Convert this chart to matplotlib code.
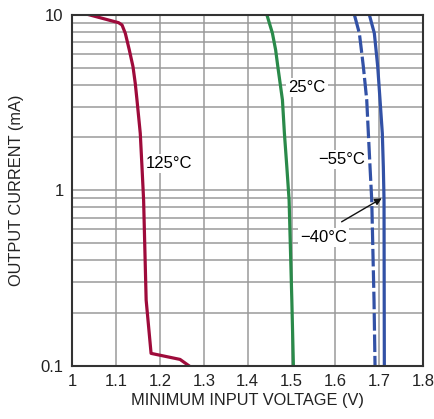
import matplotlib
matplotlib.use("Agg")
import matplotlib.pyplot as plt
from matplotlib.ticker import FixedLocator, NullFormatter

plt.rcParams['font.family'] = ['Liberation Sans Narrow', 'Liberation Sans', 'DejaVu Sans']

# minimum input voltage (V) vs output current (mA)
v_125 = [1.038, 1.106, 1.1138, 1.1213, 1.1304, 1.1388, 1.144, 1.1479, 1.1554,
         1.1593, 1.163, 1.1688, 1.180, 1.246, 1.267]
i_125 = [10.0, 9.0, 8.74, 7.84, 6.30, 5.06, 4.06, 3.27, 2.11,
         1.36, 0.88, 0.237, 0.118, 0.109, 0.1]

v_25 = [1.4437, 1.4564, 1.4637, 1.4687, 1.4740, 1.4792, 1.4837, 1.4892, 1.4944, 1.5006, 1.5042]
i_25 = [10.0, 7.84, 6.30, 5.06, 4.06, 3.27, 2.11, 1.36, 0.88, 0.237, 0.1]

v_m55 = [1.643, 1.6544, 1.659, 1.6635, 1.6712, 1.6749, 1.6787, 1.6826, 1.6878, 1.6901]
i_m55 = [10.0, 7.84, 6.30, 5.06, 3.27, 2.11, 1.36, 0.88, 0.237, 0.1]

v_m40 = [1.6771, 1.6885, 1.6924, 1.6962, 1.7015, 1.7067, 1.709, 1.7106, 1.711, 1.7113]
i_m40 = [10.0, 7.84, 6.30, 5.06, 3.27, 2.11, 1.36, 0.88, 0.237, 0.1]

x_ticks = [1, 1.1, 1.2, 1.3, 1.4, 1.5, 1.6, 1.7, 1.8]
x_labels = ['1', '1.1', '1.2', '1.3', '1.4', '1.5', '1.6', '1.7', '1.8']
y_ticks = [0.1, 1, 10]
y_labels = ['0.1', '1', '10']

red = '#9e0b3b'
green = '#2a8a4a'
blue = '#3251a6'

fig = plt.figure(figsize=(4.34, 4.19), dpi=100)
ax = fig.add_axes([0.166, 0.1265, 0.8093, 0.8385])

ax.plot(v_125, i_125, color=red, lw=2.3, zorder=3, solid_joinstyle='round')
ax.plot(v_25, i_25, color=green, lw=2.3, zorder=3, solid_joinstyle='round')
ax.plot(v_m55, i_m55, color=blue, lw=2.3, ls=(0, (5.5, 1.2)), zorder=3)
ax.plot(v_m40, i_m40, color=blue, lw=2.3, zorder=3, solid_joinstyle='round')

ax.set_yscale('log')
ax.set_xlim(1, 1.8)
ax.set_ylim(0.1, 10)
ax.set_xticks(x_ticks)
ax.set_xticklabels(x_labels)
ax.set_yticks(y_ticks)
ax.set_yticklabels(y_labels)
ax.yaxis.set_minor_locator(FixedLocator([m * d for d in (0.1, 1) for m in range(2, 10)]))
ax.yaxis.set_minor_formatter(NullFormatter())
ax.tick_params(which='both', length=0, labelsize=12, colors='#222222', pad=6)

ax.grid(True, which='both', color='#9a9a9a', lw=1.1)
for s in ax.spines.values():
    s.set_color('#333333')
    s.set_linewidth(1.5)
    s.set_zorder(4)

ax.set_xlabel('MINIMUM INPUT VOLTAGE (V)', fontsize=11.8, color='#222222', labelpad=3)
ax.set_ylabel('OUTPUT CURRENT (mA)', fontsize=11.8, color='#222222', labelpad=12)

box = dict(facecolor='white', edgecolor='none', pad=1.5)
ax.text(1.221, 1.43, '125°C', fontsize=12, ha='center', va='center', bbox=box, zorder=5)
ax.text(1.535, 3.83, '25°C', fontsize=12, ha='center', va='center', bbox=box, zorder=5)
ax.text(1.614, 1.49, '\u221255°C', fontsize=12, ha='center', va='center', bbox=box, zorder=5)
ax.text(1.573, 0.54, '\u221240°C', fontsize=12, ha='center', va='center', bbox=box, zorder=5)
ax.annotate('', xy=(1.7054, 0.90), xytext=(1.614, 0.662), zorder=5,
            arrowprops=dict(arrowstyle='-|>', color='#111111', lw=1.0,
                            mutation_scale=10, shrinkA=0, shrinkB=0))

fig.savefig('out.png', dpi=100)
